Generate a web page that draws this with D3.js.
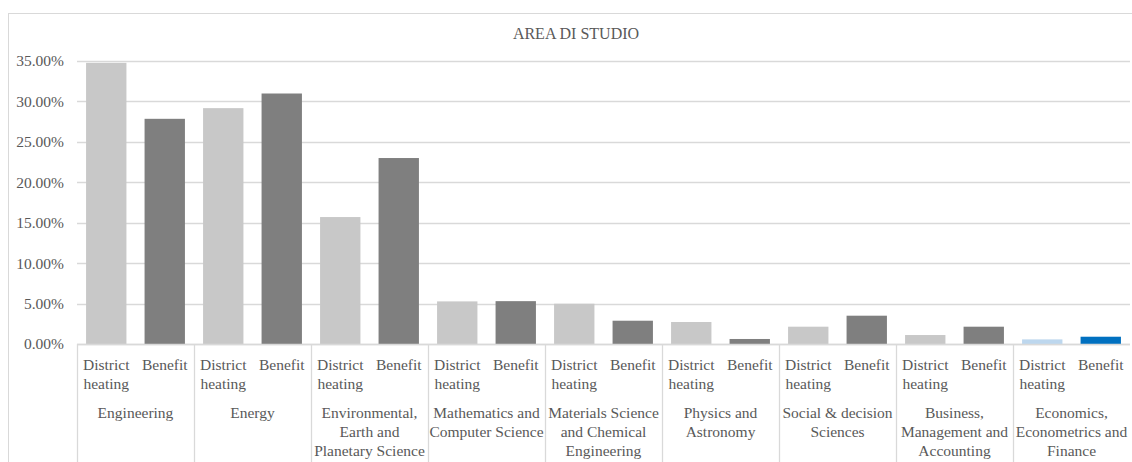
<html><head>
<script src="https://d3js.org/d3.v7.min.js"></script>
<style>
  body { margin: 0; background: #fff; }
  text { font-family: "Liberation Serif", "Times New Roman", serif; fill: #595959; }
</style>
</head>
<body>
<script>
// categories (group labels, split into lines as in the picture)
var groups = ["Engineering", "Energy", "Environmental", "Mathematics", "Materials", "Physics", "Social", "Business", "Economics"];
var groupLines = [
  ["Engineering"],
  ["Energy"],
  ["Environmental,", "Earth and", "Planetary Science"],
  ["Mathematics and", "Computer Science"],
  ["Materials Science", "and Chemical", "Engineering"],
  ["Physics and", "Astronomy"],
  ["Social & decision", "Sciences"],
  ["Business,", "Management and", "Accounting"],
  ["Economics,", "Econometrics and", "Finance"]
];
var subs = ["District heating", "Benefit"];
var subLines = [["District", "heating"], ["Benefit"]];
// values in %
var districtHeating = [34.77, 29.17, 15.70, 5.27, 4.98, 2.72, 2.14, 1.11, 0.57];
var benefit = [27.85, 30.98, 23.00, 5.30, 2.88, 0.62, 3.50, 2.14, 0.90];
var yTicks = [0, 5, 10, 15, 20, 25, 30, 35];

let width = 1132, height = 462;
let svg = d3.select("body").append("svg").attr("width", width).attr("height", height);

let plotLeft = 77, plotRight = 1130, plotTop = 61, plotBottom = 344;

// frame
svg.append("rect").attr("x", 8.5).attr("y", 13.5).attr("width", 1136).attr("height", 470)
  .attr("fill", "none").attr("stroke", "#d9d9d9");

svg.append("text").attr("x", 576).attr("y", 39).attr("text-anchor", "middle")
  .style("font-size", "16px").text("AREA DI STUDIO");

let yScale = d3.scaleLinear().domain([0, 35]).range([plotBottom, plotTop]);
let xScale = d3.scaleBand().domain(groups).range([plotLeft, plotRight]);
let xSub = d3.scaleBand().domain(subs).range([0, xScale.bandwidth()]).paddingInner(0.31).paddingOuter(0.155);

// gridlines
yTicks.forEach(t => {
  svg.append("line").attr("x1", plotLeft).attr("x2", plotRight)
    .attr("y1", Math.round(yScale(t)) + 0.5).attr("y2", Math.round(yScale(t)) + 0.5)
    .attr("stroke", "#d9d9d9").attr("stroke-width", 1.3);
});

// y axis labels
let yAxis = d3.axisLeft(yScale).tickValues(yTicks).tickSize(0).tickPadding(13)
  .tickFormat(d => d.toFixed(2) + "%");
let yg = svg.append("g").attr("transform", "translate(" + plotLeft + ",0)").call(yAxis);
yg.select(".domain").remove();
yg.attr("font-family", null).attr("font-size", null);
yg.selectAll("text").style("font-size", "15.5px").attr("fill", "#595959");

// bars
groups.forEach((g, i) => {
  let last = i == groups.length - 1;
  let fills = last ? ["#bdd7ee", "#0070c0"] : ["#c8c8c8", "#7f7f7f"];
  [districtHeating[i], benefit[i]].forEach((v, j) => {
    svg.append("rect")
      .attr("x", xScale(g) + xSub(subs[j]))
      .attr("y", yScale(v))
      .attr("width", xSub.bandwidth())
      .attr("height", yScale(0) - yScale(v))
      .attr("fill", fills[j]);
  });
});

// category axis line and separators
svg.append("line").attr("x1", plotLeft).attr("x2", plotRight).attr("y1", plotBottom + 0.5).attr("y2", plotBottom + 0.5)
  .attr("stroke", "#d9d9d9").attr("stroke-width", 1.3);
groups.forEach(g => {
  let x = Math.round(xScale(g)) + 0.5;
  svg.append("line").attr("x1", x).attr("x2", x).attr("y1", plotBottom).attr("y2", height)
    .attr("stroke", "#d9d9d9").attr("stroke-width", 1.3);
});

// sub labels and group labels
groups.forEach((g, i) => {
  subs.forEach((s, j) => {
    let cx = xScale(g) + xSub(s) + xSub.bandwidth() / 2;
    let t = svg.append("text").attr("text-anchor", "middle").style("font-size", "15.5px");
    subLines[j].forEach((line, k) => {
      t.append("tspan").attr("x", cx).attr("y", 370 + k * 18.5).text(line);
    });
  });
  let gx = xScale(g) + xScale.bandwidth() / 2;
  let t = svg.append("text").attr("text-anchor", "middle").style("font-size", "15.5px");
  groupLines[i].forEach((line, k) => {
    t.append("tspan").attr("x", gx).attr("y", 418 + k * 19).text(line);
  });
});
</script>
</body>
</html>
